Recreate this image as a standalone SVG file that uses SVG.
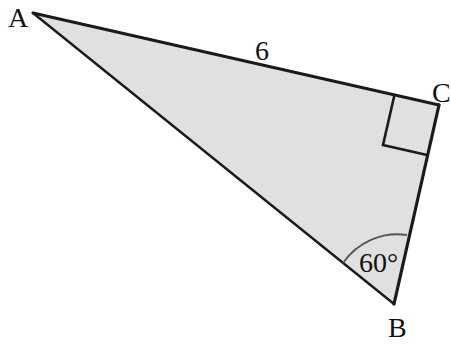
<svg xmlns="http://www.w3.org/2000/svg" width="451" height="344" viewBox="0 0 451 344">
<style>
.edge{stroke:#1a1a1a;stroke-linecap:round;fill:none}
.lbl{font-family:"Liberation Serif","DejaVu Serif",serif;font-size:28px;fill:#111}
</style>
<rect width="451" height="344" fill="#ffffff"/>
<g id="triangle">
<polygon points="33,13 439,105 394,304" fill="#e0e0e0" stroke="none"/>
</g>
<g id="connectors">
<line class="edge" x1="33" y1="13" x2="439" y2="105" stroke-width="3"/>
<line class="edge" x1="439" y1="105" x2="394" y2="304" stroke-width="3.2"/>
<line class="edge" x1="33" y1="13" x2="394" y2="304" stroke-width="2.4"/>
</g>
<g id="right-angle">
<polyline class="edge" points="394,97 383,145 427,155" stroke-width="2.6"/>
</g>
<g id="angle-arc">
<path d="M343,263 A66,66 0 0 1 407,235" fill="none" stroke="#555" stroke-width="1.8"/>
</g>
<g id="labels">
<text class="lbl" x="8" y="27">A</text>
<text class="lbl" x="255" y="60">6</text>
<text class="lbl" x="432" y="102">C</text>
<text class="lbl" x="388" y="337">B</text>
<text class="lbl" x="359" y="272">60°</text>
</g>
</svg>
